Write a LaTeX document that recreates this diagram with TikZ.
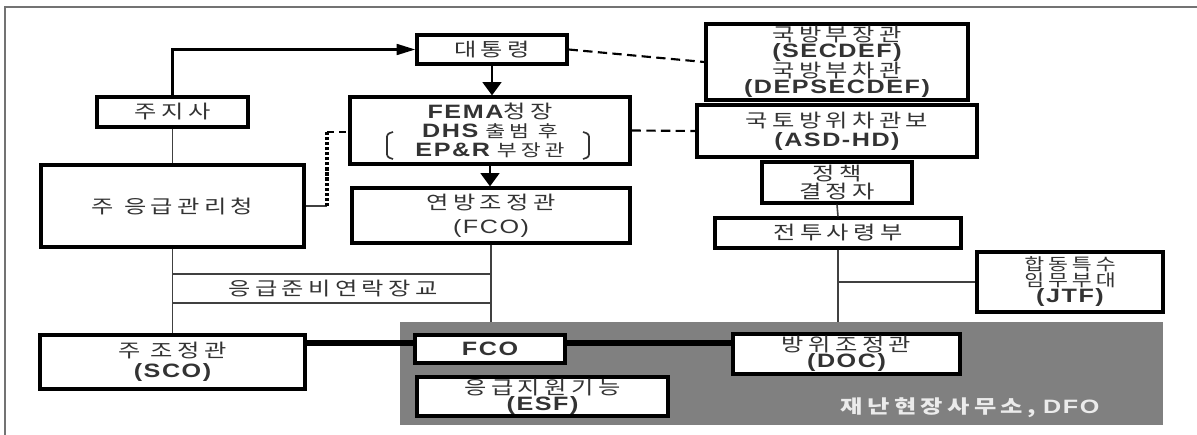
\documentclass[tikz,border=0pt]{standalone}
\usepackage{fontspec}
\usepackage{graphicx}
\usetikzlibrary{arrows.meta}
\newfontfamily\kr[LetterSpace=18]{Noto Sans CJK KR}
\newfontfamily\lt[FakeStretch=1.3,LetterSpace=8]{Liberation Sans}
\newcommand{\kt}[1]{\scalebox{1.3}[1]{\kr\fontsize{14}{12}\selectfont #1}}
\newcommand{\kts}[1]{\scalebox{1.3}[1]{\kr\fontsize{12.5}{12}\selectfont #1}}
\newcommand{\latb}[1]{{\lt\bfseries\fontsize{14.5}{12}\selectfont #1}}
\newcommand{\latr}[1]{{\lt\fontsize{14.5}{12}\selectfont #1}}
\newcommand{\krfont}{\kr\fontsize{13}{12}\selectfont\lineskip=0pt}
\newcommand{\krbfont}{\kr\bfseries\fontsize{13}{12}\selectfont}
\tikzset{
  box/.style={draw=black, line width=2.4pt, fill=white, inner sep=0pt, align=center,
    font=\krfont, text=black!80},
  sz/.style 2 args={minimum width=#1*0.75pt, minimum height=#2*0.75pt},
  thinln/.style={line width=1.2pt, draw=black!75},
  darr/.style={line width=2.2pt, -{Triangle[length=10pt,width=14pt]}},
  rarr/.style={line width=2pt, -{Triangle[length=14pt,width=8pt]}},
  dsh/.style={line width=1.6pt, dash pattern=on 7pt off 4pt},
  dts/.style={line width=2.6pt, dash pattern=on 2.4pt off 1.4pt},
  thk/.style={line width=4pt},
  lbl/.style={inner sep=0pt, font=\krfont, text=black!80}
}
\begin{document}
\begin{tikzpicture}[x=0.75pt,y=-0.75pt]
\useasboundingbox (0,0) rectangle (1197,435);
\fill[white] (0,0) rectangle (1197,435);
% frame
\draw[line width=1.2pt, black!55] (5,435) -- (5,7) -- (1197,7);
% grey field
\node[fill=black!50, inner sep=0pt, sz={763}{103}] (dfo) at (781.5,373.5) {};
\node[lbl, text=black!8, font=\krbfont] (dfotext) at (970,408) {\kt{\bfseries 재난현장사무소,} \latb{DFO}};
% boxes
\node[box, sz={150}{29}] (pres) at (492,49.5) {\kt{대통령}};
\node[box, sz={151}{30}] (gov) at (172.5,112) {\kt{주지사}};
\node[box, sz={280}{67}] (fema) at (490,130.5) {\latb{FEMA}\kt{청장}\\[2pt]\latb{DHS} \kts{출범 후}\\[2pt]\latb{EP\&R} \kts{부장관}};
\node[box, sz={263}{82}] (state) at (172.5,206) {\kt{주 응급관리청}};
\node[box, sz={278}{55}] (fco1) at (491,215.5) {\kt{연방조정관}\\[6pt]\latr{(FCO)}};
\node[box, sz={262}{76}] (secdef) at (837,62) {\kt{국방부장관}\\\latb{(SECDEF)}\\\kt{국방부차관}\\\latb{(DEPSECDEF)}};
\node[box, sz={280}{52}] (asd) at (837,131) {\kt{국토방위차관보}\\[2pt]\latb{(ASD-HD)}};
\node[box, sz={150}{41}] (policy) at (837,182.5) {\kt{정책}\\[1pt]\kt{결정자}};
\node[box, sz={246}{30}] (combat) at (838,233) {\kt{전투사령부}};
\node[box, sz={186}{60}] (jtf) at (1070,282) {\kts{합동특수}\\\kts{임무부대}\\\latb{(JTF)}};
\node[box, sz={265}{54}] (sco) at (172.5,362) {\kt{주 조정관}\\[3pt]\latb{(SCO)}};
\node[box, sz={150}{28}] (fco2) at (490,349) {\latb{FCO}};
\node[box, sz={227}{40}] (doc) at (846.5,354) {\kt{방위조정관}\\\latb{(DOC)}};
\node[box, sz={251}{39}] (esf) at (542.5,396.5) {\kt{응급지원기능}\\\latb{(ESF)}};
\node[lbl] (liaison) at (333,289) {\kt{응급준비연락장교}};
% brackets in FEMA box
\draw[line width=1.3pt, black!80, rounded corners=2pt] (393,132) -- (387,134) -- (387,157) -- (393,159);
\draw[line width=1.3pt, black!80, rounded corners=2pt] (583,132) -- (589,134) -- (589,157) -- (583,159);
% coordinates
\coordinate (l1) at (0,274);
\coordinate (l2) at (0,303);
\coordinate (ly) at (0,343);
\coordinate (d1) at (327,206);
\coordinate (d2) at (327,132);
% connectors
\draw[rarr] (gov.north) |- (pres.west);
\draw[darr] (pres.south) -- (pres.south |- fema.north);
\draw[darr] (fema.south) -- (fema.south |- fco1.north);
\draw[thinln] (gov.south) -- (state.north);
\draw[thinln] (state.south) -- (sco.north);
\draw[thinln] (state.south |- l1) -- (fco1.south |- l1);
\draw[thinln] (state.south |- l2) -- (fco1.south |- l2);
\draw[thinln] (fco1.south) -- (fco1.south |- dfo.north);
\draw[dsh] (pres.east) -- (secdef.west);
\draw[dsh] (fema.east) -- (asd.west);
\draw[thinln] (state.east |- d1) -- (d1);
\draw[dts] (d1) -- (d2);
\draw[line width=1.4pt, dash pattern=on 5pt off 4pt] (d2) -- (fema.west |- d2);
\draw[thinln] (policy.south) -- (combat.north);
\draw[thinln] (combat.south) -- (combat.south |- dfo.north);
\draw[thinln] (combat.south |- jtf.west) -- (jtf.west);
\draw[thk] (sco.east |- ly) -- (fco2.west |- ly);
\draw[thk] (fco2.east |- ly) -- (doc.west |- ly);
\end{tikzpicture}
\end{document}
